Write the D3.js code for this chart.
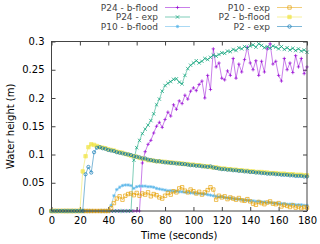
<!DOCTYPE html>
<html>
<head>
<meta charset="utf-8">
<script src="https://cdn.jsdelivr.net/npm/d3@7"></script>
<style>
body { margin: 0; background: #fff; }
svg { font-family: "DejaVu Sans", sans-serif; }
</style>
</head>
<body>
<div id="chart"></div>
<script>
// sample times in seconds, one sample every 2 s
var time = d3.range(0, 181, 2);

// water height (m), rows of 10 samples: t=0-18, 20-38, ... 160-178, then t=180
var p24_bflood = [
    0, 0, 0, 0, 0, 0, 0, 0, 0, 0,
    0, 0, 0, 0, 0, 0, 0, 0, 0, 0,
    0, 0, 0, 0, 0, 0, 0, 0, 0, 0,
    0, 0, 0.085, 0.105, 0.118, 0.125, 0.138, 0.150, 0.157, 0.148,
    0.162, 0.175, 0.168, 0.188, 0.180, 0.195, 0.190, 0.205, 0.198, 0.212,
    0.218, 0.213, 0.224, 0.230, 0.200, 0.240, 0.215, 0.287, 0.255, 0.262,
    0.235, 0.232, 0.248, 0.240, 0.270, 0.235, 0.260, 0.246, 0.268, 0.290,
    0.262, 0.250, 0.266, 0.240, 0.265, 0.246, 0.287, 0.296, 0.260, 0.265,
    0.240, 0.230, 0.270, 0.250, 0.262, 0.245, 0.275, 0.255, 0.270, 0.243,
    0.255];
var p24_exp = [
    0, 0, 0, 0, 0, 0, 0, 0, 0, 0,
    0, 0, 0, 0, 0, 0, 0, 0, 0, 0,
    0, 0, 0, 0, 0, 0, 0, 0, 0, 0.090,
    0.112, 0.125, 0.137, 0.145, 0.152, 0.160, 0.172, 0.188, 0.198, 0.212,
    0.222, 0.226, 0.229, 0.233, 0.234, 0.228, 0.225, 0.240, 0.252, 0.258,
    0.262, 0.266, 0.262, 0.265, 0.270, 0.268, 0.272, 0.276, 0.274, 0.277,
    0.280, 0.279, 0.283, 0.282, 0.286, 0.284, 0.289, 0.287, 0.291, 0.288,
    0.292, 0.294, 0.290, 0.296, 0.293, 0.289, 0.291, 0.288, 0.292, 0.290,
    0.287, 0.291, 0.286, 0.289, 0.285, 0.288, 0.284, 0.287, 0.283, 0.285,
    0.281];
var p10_bflood = [
    0, 0, 0, 0, 0, 0, 0, 0, 0, 0,
    0, 0, 0, 0, 0, 0, 0, 0, 0, 0,
    0, 0.010, 0.027, 0.038, 0.042, 0.045, 0.046, 0.046, 0.045, 0.040,
    0.043, 0.044, 0.044, 0.044, 0.043, 0.043, 0.042, 0.040, 0.039, 0.038,
    0.037, 0.036, 0.036, 0.035, 0.035, 0.034, 0.034, 0.033, 0.033, 0.032,
    0.032, 0.031, 0.031, 0.030, 0.030, 0.029, 0.028, 0.027, 0.026, 0.025,
    0.025, 0.024, 0.023, 0.023, 0.022, 0.021, 0.021, 0.020, 0.019, 0.019,
    0.018, 0.018, 0.017, 0.017, 0.016, 0.016, 0.015, 0.015, 0.014, 0.014,
    0.013, 0.013, 0.013, 0.012, 0.012, 0.012, 0.011, 0.011, 0.011, 0.010,
    0.010];
var p10_exp = [
    0, 0, 0, 0, 0, 0, 0, 0, 0, 0,
    0, 0, 0, 0, 0, 0, 0, 0, 0, 0,
    0, 0.005, 0.014, 0.022, 0.026, 0.020, 0.027, 0.030, 0.031, 0.028,
    0.032, 0.027, 0.031, 0.029, 0.033, 0.026, 0.030, 0.028, 0.024, 0.022,
    0.027, 0.032, 0.029, 0.035, 0.033, 0.040, 0.042, 0.036, 0.033, 0.038,
    0.035, 0.031, 0.034, 0.029, 0.033, 0.037, 0.042, 0.038, 0.020, 0.027,
    0.024, 0.026, 0.021, 0.024, 0.022, 0.020, 0.023, 0.019, 0.018, 0.021,
    0.017, 0.013, 0.011, 0.016, 0.014, 0.012, 0.015, 0.017, 0.013, 0.012,
    0.014, 0.008, 0.011, 0.009, 0.007, 0.010, 0.006, 0.008, 0.005, 0.007,
    0.006];
var p2_bflood = [
    0, 0, 0, 0, 0, 0, 0, 0, 0, 0,
    0, 0.070, 0.097, 0.113, 0.118, 0.117, 0.115, 0.113, 0.112, 0.111,
    0.109, 0.108, 0.107, 0.105, 0.104, 0.103, 0.101, 0.100, 0.098, 0.097,
    0.096, 0.094, 0.093, 0.092, 0.090, 0.090, 0.089, 0.088, 0.088, 0.087,
    0.087, 0.086, 0.086, 0.085, 0.085, 0.084, 0.084, 0.083, 0.083, 0.082,
    0.082, 0.081, 0.081, 0.080, 0.079, 0.079, 0.078, 0.077, 0.077, 0.076,
    0.075, 0.075, 0.074, 0.074, 0.073, 0.073, 0.072, 0.072, 0.071, 0.071,
    0.070, 0.070, 0.069, 0.069, 0.069, 0.068, 0.068, 0.067, 0.067, 0.067,
    0.066, 0.066, 0.066, 0.065, 0.065, 0.065, 0.064, 0.064, 0.064, 0.063,
    0.063];
var p2_exp = [
    0, 0, 0, 0, 0, 0, 0, 0, 0, 0,
    0, 0, 0.065, 0.078, 0.068, 0.104, 0.112, 0.113, 0.111, 0.110,
    0.108, 0.107, 0.106, 0.104, 0.103, 0.102, 0.101, 0.100, 0.099, 0.097,
    0.096, 0.095, 0.093, 0.093, 0.091, 0.090, 0.089, 0.088, 0.088, 0.087,
    0.086, 0.086, 0.085, 0.085, 0.084, 0.084, 0.083, 0.083, 0.082, 0.081,
    0.081, 0.080, 0.080, 0.079, 0.079, 0.078, 0.079, 0.077, 0.076, 0.075,
    0.074, 0.074, 0.073, 0.073, 0.072, 0.072, 0.071, 0.071, 0.070, 0.070,
    0.069, 0.069, 0.068, 0.068, 0.067, 0.067, 0.066, 0.066, 0.066, 0.065,
    0.065, 0.064, 0.064, 0.064, 0.063, 0.063, 0.062, 0.062, 0.062, 0.061,
    0.061];

var seriesNames = ["P24 - b-flood", "P24 - exp", "P10 - b-flood", "P10 - exp", "P2 - b-flood", "P2 - exp"];
var seriesValues = [p24_bflood, p24_exp, p10_bflood, p10_exp, p2_bflood, p2_exp];
var xTicks = [0, 20, 40, 60, 80, 100, 120, 140, 160, 180];
var yTicks = [0, 0.05, 0.1, 0.15, 0.2, 0.25, 0.3];

// gnuplot-like line styles
var styles = [
    {color: "#9400d3", marker: "plus"},
    {color: "#009e73", marker: "cross"},
    {color: "#56b4e9", marker: "star"},
    {color: "#e69f00", marker: "box"},
    {color: "#f0e442", marker: "fbox"},
    {color: "#0072b2", marker: "circle"}
];

var svg_width = 320, svg_height = 244;
var margin = {top: 41.5, right: 13, bottom: 33, left: 51.5};
var width = svg_width - margin.left - margin.right;
var height = svg_height - margin.top - margin.bottom;

var svg = d3.select("#chart").append("svg")
    .attr("width", svg_width)
    .attr("height", svg_height);

var g = svg.append("g")
    .attr("transform", "translate(" + margin.left + "," + margin.top + ")");

var x = d3.scaleLinear().domain([0, 180]).range([0, width]);
var y = d3.scaleLinear().domain([0, 0.3]).range([height, 0]);

function markerPath(type, s) {
    if (type === "plus") return "M" + (-s) + ",0H" + s + "M0," + (-s) + "V" + s;
    if (type === "cross") return "M" + (-s) + "," + (-s) + "L" + s + "," + s + "M" + (-s) + "," + s + "L" + s + "," + (-s);
    if (type === "star") return markerPath("plus", s) + markerPath("cross", s * 0.75);
    if (type === "box" || type === "fbox") return "M" + (-s) + "," + (-s) + "h" + (2 * s) + "v" + (2 * s) + "h" + (-2 * s) + "Z";
    // circle
    return "M" + s + ",0A" + s + "," + s + " 0 1,1 " + (-s) + ",0A" + s + "," + s + " 0 1,1 " + s + ",0Z";
}

function drawMarker(sel, style, size) {
    sel.attr("d", markerPath(style.marker, size))
        .attr("fill", style.marker === "fbox" ? style.color : "none")
        .attr("stroke", style.color)
        .attr("stroke-width", 0.9)
        .attr("opacity", 0.75);
}

// axes, ticks pointing inward and mirrored
var fmt = function(d) { return String(+d.toFixed(2)); };

var xAxis = g.append("g")
    .attr("transform", "translate(0," + height + ")")
    .call(d3.axisBottom(x).tickValues(xTicks).tickFormat(d3.format("d"))
        .tickSizeInner(-4).tickSizeOuter(0).tickPadding(6));
var yAxis = g.append("g")
    .call(d3.axisLeft(y).tickValues(yTicks).tickFormat(fmt)
        .tickSizeInner(-4).tickSizeOuter(0).tickPadding(7));
var xTop = g.append("g")
    .call(d3.axisTop(x).tickValues(xTicks).tickFormat("")
        .tickSizeInner(-4).tickSizeOuter(0));
var yRight = g.append("g")
    .attr("transform", "translate(" + width + ",0)")
    .call(d3.axisRight(y).tickValues(yTicks).tickFormat("")
        .tickSizeInner(-4).tickSizeOuter(0));

[xAxis, yAxis, xTop, yRight].forEach(function(a) {
    a.select(".domain").remove();
    a.selectAll(".tick line").attr("stroke", "#444");
    a.selectAll(".tick text")
        .attr("fill", "#000")
        .style("font-size", "10px")
        .style("font-family", "'DejaVu Sans', sans-serif");
});

// series
var line = d3.line()
    .x(function(d) { return x(d[0]); })
    .y(function(d) { return y(d[1]); });

seriesValues.forEach(function(values, i) {
    var style = styles[i];
    var pts = values.map(function(v, k) { return [time[k], v]; });
    var sg = g.append("g").attr("class", "series");
    sg.append("path")
        .datum(pts)
        .attr("d", line)
        .attr("fill", "none")
        .attr("stroke", style.color)
        .attr("stroke-width", 1)
        .attr("stroke-opacity", 0.5);
    sg.selectAll(".pt")
        .data(pts)
      .enter().append("path")
        .attr("class", "pt")
        .attr("transform", function(d) { return "translate(" + x(d[0]) + "," + y(d[1]) + ")"; })
        .call(drawMarker, style, style.marker === "circle" ? 1.6 : 1.7);
});

// plot border
g.append("rect")
    .attr("width", width)
    .attr("height", height)
    .attr("fill", "none")
    .attr("stroke", "#444")
    .attr("stroke-width", 1);

// axis titles
svg.append("text")
    .attr("transform", "translate(10," + (margin.top + height / 2) + ") rotate(-90)")
    .attr("text-anchor", "middle")
    .attr("dy", "0.35em")
    .style("font-size", "10px")
    .text("Water height (m)");

svg.append("text")
    .attr("x", margin.left + width / 2)
    .attr("y", 239)
    .attr("text-anchor", "middle")
    .style("font-size", "10px")
    .text("Time (seconds)");

// legend, two columns of three
var legendCols = [158, 270];
var legendRows = [7.5, 17, 26.5];
seriesNames.forEach(function(name, i) {
    var style = styles[i];
    var lx = legendCols[Math.floor(i / 3)];
    var ly = legendRows[i % 3];
    var lg = svg.append("g").attr("transform", "translate(" + lx + "," + ly + ")");
    lg.append("text")
        .attr("text-anchor", "end")
        .attr("dy", "0.35em")
        .attr("fill", "#444")
        .style("font-size", "9px")
        .text(name);
    lg.append("line")
        .attr("x1", 7).attr("x2", 32)
        .attr("stroke", style.color)
        .attr("stroke-width", 1)
        .attr("stroke-opacity", 0.5);
    lg.append("path")
        .attr("transform", "translate(19.5,0)")
        .call(drawMarker, style, 1.7);
});
</script>
</body>
</html>
